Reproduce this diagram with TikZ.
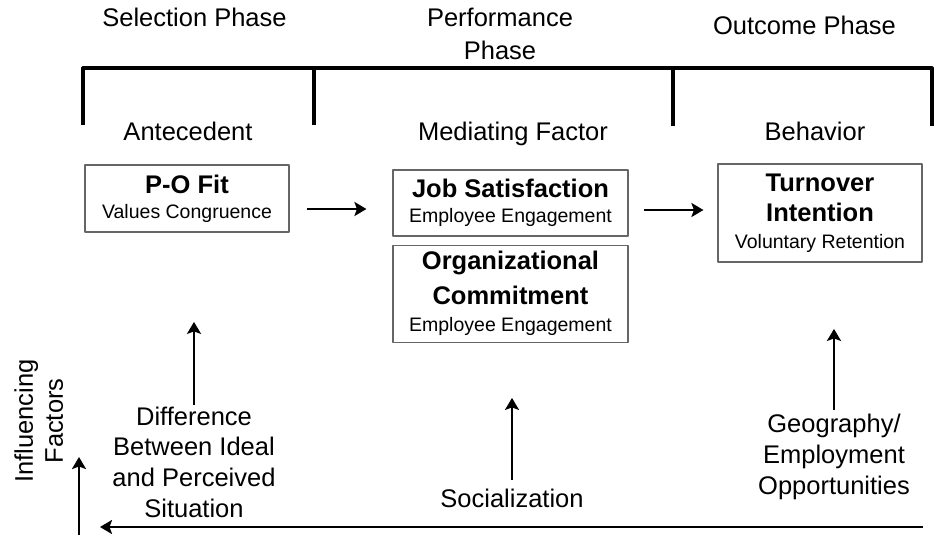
\documentclass[tikz,border=0pt]{standalone}
\usepackage{fontspec}
\setmainfont{Liberation Sans}
\usetikzlibrary{arrows.meta,positioning}
\newcommand{\bigbold}{\fontsize{25.5}{31}\selectfont\bfseries}
\tikzset{
	phase/.style={font=\fontsize{25.5}{31}\selectfont, align=center, inner sep=0pt},
	factor/.style={draw=black!60, line width=1.1pt, align=center, inner sep=0pt, font=\fontsize{19.5}{25}\selectfont},
	flow/.style={-{Stealth[length=12pt,width=14pt,inset=2.5pt]}, line width=2.6pt},
	bracket/.style={line width=3.2pt}
}
\begin{document}
\begin{tikzpicture}[x=1pt, y=-1pt, line join=round]
		\useasboundingbox (0,0) rectangle (940,535);
		% phases
		\node[phase, anchor=base] (sel) at (194.5,27) {Selection Phase};
		\node[phase, font=\fontsize{25.5}{33}\selectfont] (perf) at (500,34.3) {Performance\\Phase};
		\node[phase, anchor=base] (out) at (804.5,35) {Outcome Phase};
		\draw[bracket] (83,125)--(83,68)--(932,68)--(932,126);
		\draw[bracket] (314,68)--(314,125) (673,68)--(673,126);
		\node[phase, anchor=base] (ante) at (188,140) {Antecedent};
		\node[phase, anchor=base] (med) at (513,140) {Mediating Factor};
		\node[phase, anchor=base] (beh) at (815,140) {Behavior};
		% boxes
		\node[factor, minimum width=204pt, minimum height=67pt] (po) at (187,198.5) {{\bigbold P-O Fit}\\Values Congruence};
		\node[factor, minimum width=235pt, minimum height=66pt] (job) at (510.5,203) {{\bigbold Job Satisfaction}\\Employee Engagement};
		\node[factor, minimum width=235pt, minimum height=97pt, below=8pt of job] (org) {{\bigbold Organizational}\\[10pt]{\bigbold Commitment}\\[2pt]Employee Engagement};
		\node[factor, minimum width=204pt, minimum height=98pt] (turn) at (820,213) {{\bigbold Turnover}\\[5pt]{\bigbold Intention}\\[2pt]Voluntary Retention};
		\draw[flow] ([xshift=17pt,yshift=-10.5pt]po.east)--([xshift=-26pt,yshift=-10.5pt]po.east -| job.west);
		\draw[flow] ([xshift=15pt,yshift=-7pt]job.east)--([xshift=-14pt,yshift=-7pt]job.east -| turn.west);
		% influencing factors
		\node[phase, font=\fontsize{25.5}{30.7}\selectfont] (diff) at (194,462) {Difference\\Between Ideal\\and Perceived\\Situation};
		\node[phase, anchor=base] (soc) at (512,507) {Socialization};
		\node[phase, font=\fontsize{25.5}{31}\selectfont] (geo) at (834,457.4) {Geography/\\Employment\\Opportunities};
		\node[phase, font=\fontsize{25.5}{30}\selectfont, rotate=90] (infl) at (38.7,421) {Influencing\\Factors};
		\draw[flow] ([yshift=1.5pt]diff.north)--++(0,-83);
		\draw[flow] ([yshift=8.4pt]soc.north)--++(0,-82);
		\draw[flow] ([yshift=4.4pt]geo.north)--++(0,-81);
		\coordinate (base) at (79,535);
		\coordinate (right) at (923,527);
		\coordinate (left) at (100,527);
		\draw[flow] (base)--++(0,-78);
		\draw[flow] (right)--(left);
\end{tikzpicture}
\end{document}
